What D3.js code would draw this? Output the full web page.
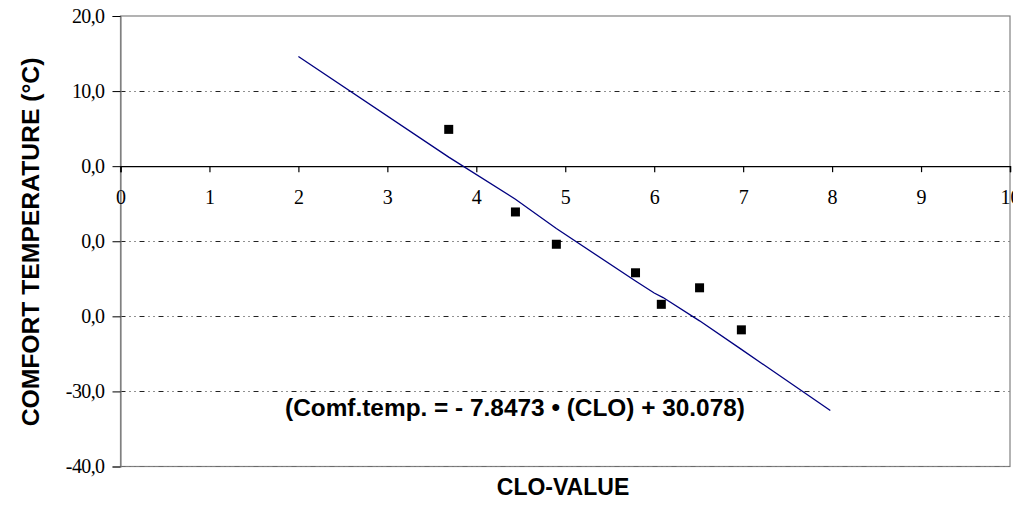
<!DOCTYPE html>
<html>
<head>
<meta charset="utf-8">
<script src="https://cdn.jsdelivr.net/npm/d3@7"></script>
<style>
  body { margin: 0; background: #fff; }
  svg { display: block; }
</style>
</head>
<body>
<div id="chart"></div>
<script>
// measured points (CLO-value vs comfort temperature)
const cloValues = [3.69, 4.44, 4.9, 5.79, 6.08, 6.51, 6.98];
const comfortTemps = [4.9, -6.1, -10.4, -14.2, -18.4, -16.2, -21.8];

// regression line as drawn (vertices)
const lineClo = [2.0, 3.69, 4.44, 4.9, 5.79, 6.0, 6.1, 6.51, 6.98, 7.98];
const lineTemp = [14.6, 1.2, -4.4, -8.3, -15.3, -16.9, -17.5, -20.6, -24.4, -32.55];

// axis ticks (labels as printed)
const xTicks = [0, 1, 2, 3, 4, 5, 6, 7, 8, 9, 10];
const yTicks = [20, 10, 0, -10, -20, -30, -40];
const yTickLabels = ['20,0', '10,0', '0,0', '0,0', '0,0', '-30,0', '-40,0'];
const gridValues = [10, -10, -20, -30];

const equation = '(Comf.temp. = - 7.8473 \u2022 (CLO) + 30.078)';

const width = 1013;
const height = 515;
const margin = { t: 16, r: 3, b: 48.5, l: 120.5 };
const serif = '"Liberation Serif", "Times New Roman", Times, serif';
const sans = '"Liberation Sans", Arial, sans-serif';

const svg = d3
  .select('#chart')
  .append('svg')
  .attr('width', width)
  .attr('height', height);

const x = d3.scaleLinear().domain([0, 10]).range([margin.l, width - margin.r]);
const y = d3.scaleLinear().domain([-40, 20]).range([height - margin.b, margin.t]);

// grid lines (dash-dot)
svg
  .append('g')
  .selectAll('line')
  .data(gridValues)
  .join('line')
  .attr('x1', x(0))
  .attr('x2', x(10))
  .attr('y1', (d) => Math.round(y(d)) + 0.5)
  .attr('y2', (d) => Math.round(y(d)) + 0.5)
  .attr('stroke', '#222')
  .attr('stroke-width', 1)
  .attr('stroke-dasharray', '5,4,1,4,1,4');

// plot frame
svg
  .append('rect')
  .attr('x', x(0))
  .attr('y', y(20))
  .attr('width', x(10) - x(0))
  .attr('height', y(-40) - y(20))
  .attr('fill', 'none')
  .attr('stroke', '#808080')
  .attr('stroke-width', 1.2);

// faint dashes on the bottom edge
svg
  .append('line')
  .attr('x1', x(0))
  .attr('x2', x(10))
  .attr('y1', y(-40))
  .attr('y2', y(-40))
  .attr('stroke', '#555')
  .attr('stroke-opacity', 0.5)
  .attr('stroke-dasharray', '5,4,1,4,1,4');

// y axis
const yAxis = svg
  .append('g')
  .attr('transform', `translate(${x(0)},0)`)
  .call(
    d3
      .axisLeft(y)
      .tickValues(yTicks)
      .tickSize(8)
      .tickPadding(8)
      .tickFormat((d, i) => yTickLabels[i]),
  );
yAxis.attr('font-family', serif).attr('font-size', 20);
yAxis.select('.domain').attr('stroke', '#808080').attr('stroke-width', 1.2);
yAxis.selectAll('.tick line').attr('stroke', '#000');
yAxis
  .selectAll('.tick text')
  .style('font-family', serif)
  .style('font-size', '20px')
  .style('letter-spacing', '-0.6px')
  .attr('fill', '#000');

// x axis on the zero line
const xAxis = svg
  .append('g')
  .attr('transform', `translate(0,${y(0)})`)
  .call(d3.axisBottom(x).tickValues(xTicks).tickSize(6).tickPadding(18).tickFormat(d3.format('d')));
xAxis.attr('font-family', serif).attr('font-size', 20);
xAxis.select('.domain').attr('stroke', '#000').attr('stroke-width', 1.4);
xAxis.selectAll('.tick line').attr('stroke', '#000').attr('stroke-width', 1.2);
xAxis
  .selectAll('.tick text')
  .style('font-family', serif)
  .style('font-size', '20px')
  .attr('fill', '#000');

// regression line
const line = d3
  .line()
  .x((d) => x(d[0]))
  .y((d) => y(d[1]));
svg
  .append('path')
  .datum(d3.zip(lineClo, lineTemp))
  .attr('d', line)
  .attr('fill', 'none')
  .attr('stroke', '#000080')
  .attr('stroke-width', 1.3);

// data points
const sq = 9;
svg
  .append('g')
  .selectAll('rect')
  .data(d3.zip(cloValues, comfortTemps))
  .join('rect')
  .attr('x', (d) => x(d[0]) - sq / 2)
  .attr('y', (d) => y(d[1]) - sq / 2)
  .attr('width', sq)
  .attr('height', sq)
  .attr('fill', '#000');

// equation
svg
  .append('text')
  .attr('x', 515)
  .attr('y', 416)
  .attr('text-anchor', 'middle')
  .attr('font-family', sans)
  .attr('font-weight', 'bold')
  .attr('font-size', '24.4px')
  .text(equation);

// axis titles
svg
  .append('text')
  .attr('x', 563)
  .attr('y', 495)
  .attr('text-anchor', 'middle')
  .attr('font-family', sans)
  .attr('font-weight', 'bold')
  .attr('font-size', '23px')
  .text('CLO-VALUE');

svg
  .append('text')
  .attr('transform', 'translate(39,242) rotate(-90)')
  .attr('text-anchor', 'middle')
  .attr('font-family', sans)
  .attr('font-weight', 'bold')
  .attr('font-size', '24.7px')
  .text('COMFORT TEMPERATURE (\u00b0C)');
</script>
</body>
</html>
